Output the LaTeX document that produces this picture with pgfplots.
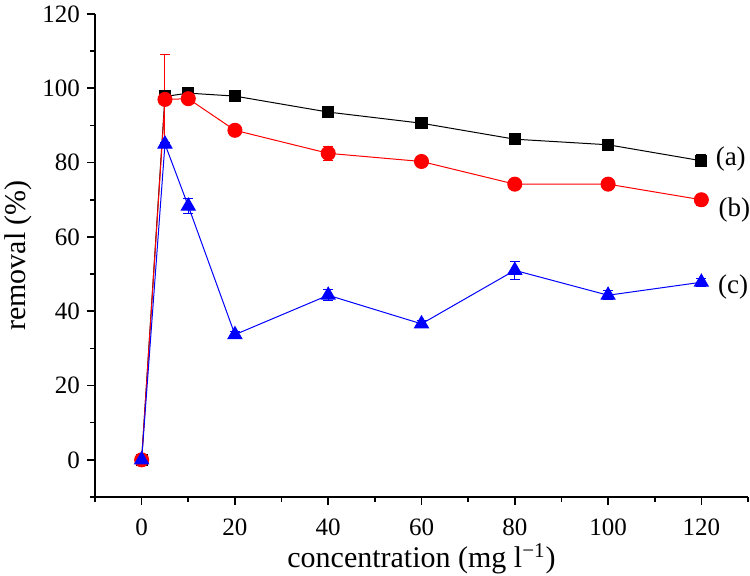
\documentclass[border=0pt]{standalone}
\usepackage{pgfplots}
\pgfplotsset{compat=1.18}
\usepackage{fontspec}
\setmainfont{Liberation Serif}
\begin{document}
\begin{tikzpicture}
\path[use as bounding box] (-47.5pt,-39.5pt) rectangle (327.5pt,248.5pt);
\begin{axis}[
  scale only axis, width=326.5pt, height=241.5pt,
  at={(0,0)}, anchor=south west,
  xmin=-10, xmax=130, ymin=-10, ymax=120,
  axis lines*=left, axis line style={line width=1pt, -},
  xtick={0,20,...,120}, ytick={0,20,...,120},
  minor xtick={-10,10,30,50,70,90,110,130}, minor ytick={-10,10,30,50,70,90,110},
  tick align=outside, tick style={black, line width=0.8pt},
  major tick length=4pt, minor tick length=2.5pt,
  tick label style={font=\fontsize{12.5}{14}\selectfont},
  xticklabel style={yshift=-3.5pt},
  /pgf/number format/assume math mode=true,
  xlabel={concentration (mg l\textsuperscript{−1})},
  ylabel={removal (\%)},
  label style={font=\fontsize{15}{17}\selectfont},
  xlabel style={yshift=3pt},
  ylabel style={yshift=-1.5pt},
  clip=false,
]
\addplot[black, line width=0.5pt, mark=square*, mark size=2.8pt,
  error bars/.cd, y dir=both, y explicit, error bar style={line width=0.5pt}, error mark options={rotate=90, mark size=2.5pt}]
  table[x=x, y=y, y error=e] {
x y e
0 0 0
5 97.8 0.5
10 98.7 0.5
20 97.9 0.5
40 93.6 0.8
60 90.6 0.6
80 86.3 0.6
100 84.8 0.6
120 80.5 1.6
};
\addplot[red, line width=0.5pt, mark=*, mark size=3.5pt,
  error bars/.cd, y dir=both, y explicit, error bar style={line width=0.5pt}, error mark options={rotate=90, mark size=2.5pt}]
  table[x=x, y=y, y error=e] {
x y e
0 0 0
5 97.0 12.2
10 97.2 0.6
20 88.7 0.6
40 82.5 1.8
60 80.3 0.6
80 74.2 0.5
100 74.2 0.5
120 70.0 1.5
};
\addplot[blue, line width=0.5pt, mark=triangle*, mark size=4pt,
  error bars/.cd, y dir=both, y explicit, error bar style={line width=0.5pt}, error mark options={rotate=90, mark size=2.5pt}]
  table[x=x, y=y, y error=e] {
x y e
0 0 0
5 85.0 0.5
10 68.3 2.0
20 33.7 1.0
40 44.3 1.5
60 36.6 1.0
80 51.0 2.5
100 44.3 1.2
120 47.8 1.0
};
\node[font=\fontsize{13.5}{15}\selectfont] at (axis cs:126.3,81) {(a)};
\node[font=\fontsize{13.5}{15}\selectfont] at (axis cs:127.1,67.3) {(b)};
\node[font=\fontsize{13.5}{15}\selectfont] at (axis cs:126.8,46.5) {(c)};
\end{axis}
\end{tikzpicture}
\end{document}
